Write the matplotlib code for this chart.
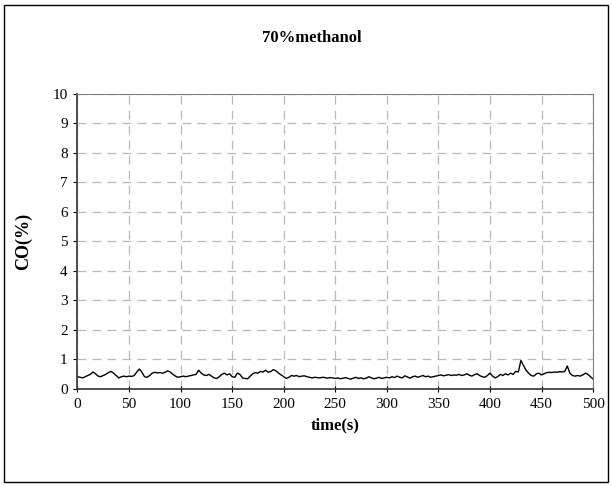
import numpy as np
import matplotlib.pyplot as plt
from matplotlib.patches import Rectangle

time_s = np.arange(0, 500.1, 2.5)
co_pct = [
    0.40, 0.38, 0.36, 0.40, 0.44, 0.48, 0.56, 0.50, 0.42, 0.40,
    0.44, 0.48, 0.54, 0.58, 0.52, 0.44, 0.36, 0.40, 0.42, 0.40,
    0.42, 0.41, 0.44, 0.56, 0.66, 0.55, 0.40, 0.38, 0.44, 0.52,
    0.55, 0.53, 0.54, 0.52, 0.55, 0.60, 0.56, 0.48, 0.42, 0.38,
    0.40, 0.42, 0.40, 0.42, 0.44, 0.46, 0.48, 0.62, 0.52, 0.46,
    0.44, 0.48, 0.42, 0.36, 0.34, 0.40, 0.48, 0.52, 0.46, 0.50,
    0.40, 0.38, 0.52, 0.48, 0.36, 0.34, 0.33, 0.42, 0.50, 0.54,
    0.52, 0.58, 0.56, 0.62, 0.55, 0.58, 0.64, 0.60, 0.52, 0.46,
    0.40, 0.34, 0.38, 0.44, 0.42, 0.44, 0.40, 0.42, 0.43, 0.40,
    0.38, 0.36, 0.38, 0.37, 0.36, 0.38, 0.37, 0.35, 0.37, 0.36,
    0.34, 0.36, 0.33, 0.35, 0.37, 0.34, 0.32, 0.35, 0.38, 0.34,
    0.36, 0.33, 0.35, 0.40, 0.36, 0.33, 0.35, 0.38, 0.34, 0.36,
    0.38, 0.36, 0.40, 0.37, 0.42, 0.38, 0.36, 0.43, 0.39, 0.35,
    0.40, 0.42, 0.38, 0.41, 0.44, 0.40, 0.42, 0.38, 0.40, 0.42,
    0.44, 0.46, 0.43, 0.45, 0.47, 0.44, 0.46, 0.45, 0.48, 0.44,
    0.46, 0.50, 0.45, 0.42, 0.47, 0.50, 0.44, 0.40, 0.38, 0.44,
    0.52, 0.42, 0.36, 0.40, 0.48, 0.44, 0.50, 0.46, 0.52, 0.48,
    0.58, 0.56, 0.95, 0.78, 0.62, 0.52, 0.44, 0.42, 0.50, 0.52,
    0.46, 0.50, 0.54, 0.55, 0.54, 0.56, 0.55, 0.57, 0.56, 0.58,
    0.76, 0.52, 0.44, 0.42, 0.44, 0.42, 0.46, 0.52, 0.48, 0.40,
    0.32,
]
x_ticks = np.arange(0, 501, 50)
y_ticks = np.arange(0, 11, 1)

plt.rcParams['font.family'] = 'Liberation Serif'

fig = plt.figure(figsize=(6.12, 4.86), dpi=100)
fig.patches.append(Rectangle((0.0065, 0.008), 0.987, 0.982, transform=fig.transFigure,
                             fill=False, edgecolor='black', linewidth=1.0))
ax = fig.add_axes([0.1266, 0.2006, 0.8425, 0.607])

ax.plot(time_s, co_pct, color='black', linewidth=1.0)

ax.set_xlim(0, 500)
ax.set_ylim(0, 10)
ax.set_xticks(x_ticks)
ax.set_yticks(y_ticks)
ax.tick_params(axis='x', direction='inout', length=5, labelsize=11, pad=4)
ax.tick_params(axis='y', direction='out', length=3, labelsize=11, pad=4)
ax.grid(True, color='#b8b8b8', linestyle=(0, (7, 5)), linewidth=0.9)
for s in ['top', 'right']:
    ax.spines[s].set_color('#808080')
for s in ['left', 'bottom']:
    ax.spines[s].set_color('#404040')
    ax.spines[s].set_linewidth(1.3)

fig.text(0.51, 0.922, '70%methanol', ha='center', va='center', fontsize=12, fontweight='bold')
fig.text(0.547, 0.124, 'time(s)', ha='center', va='center', fontsize=12, fontweight='bold')
fig.text(0.039, 0.504, 'CO(%)', ha='center', va='center', rotation=90,
         fontsize=13, fontweight='bold')

fig.savefig('out.png', dpi=100)
